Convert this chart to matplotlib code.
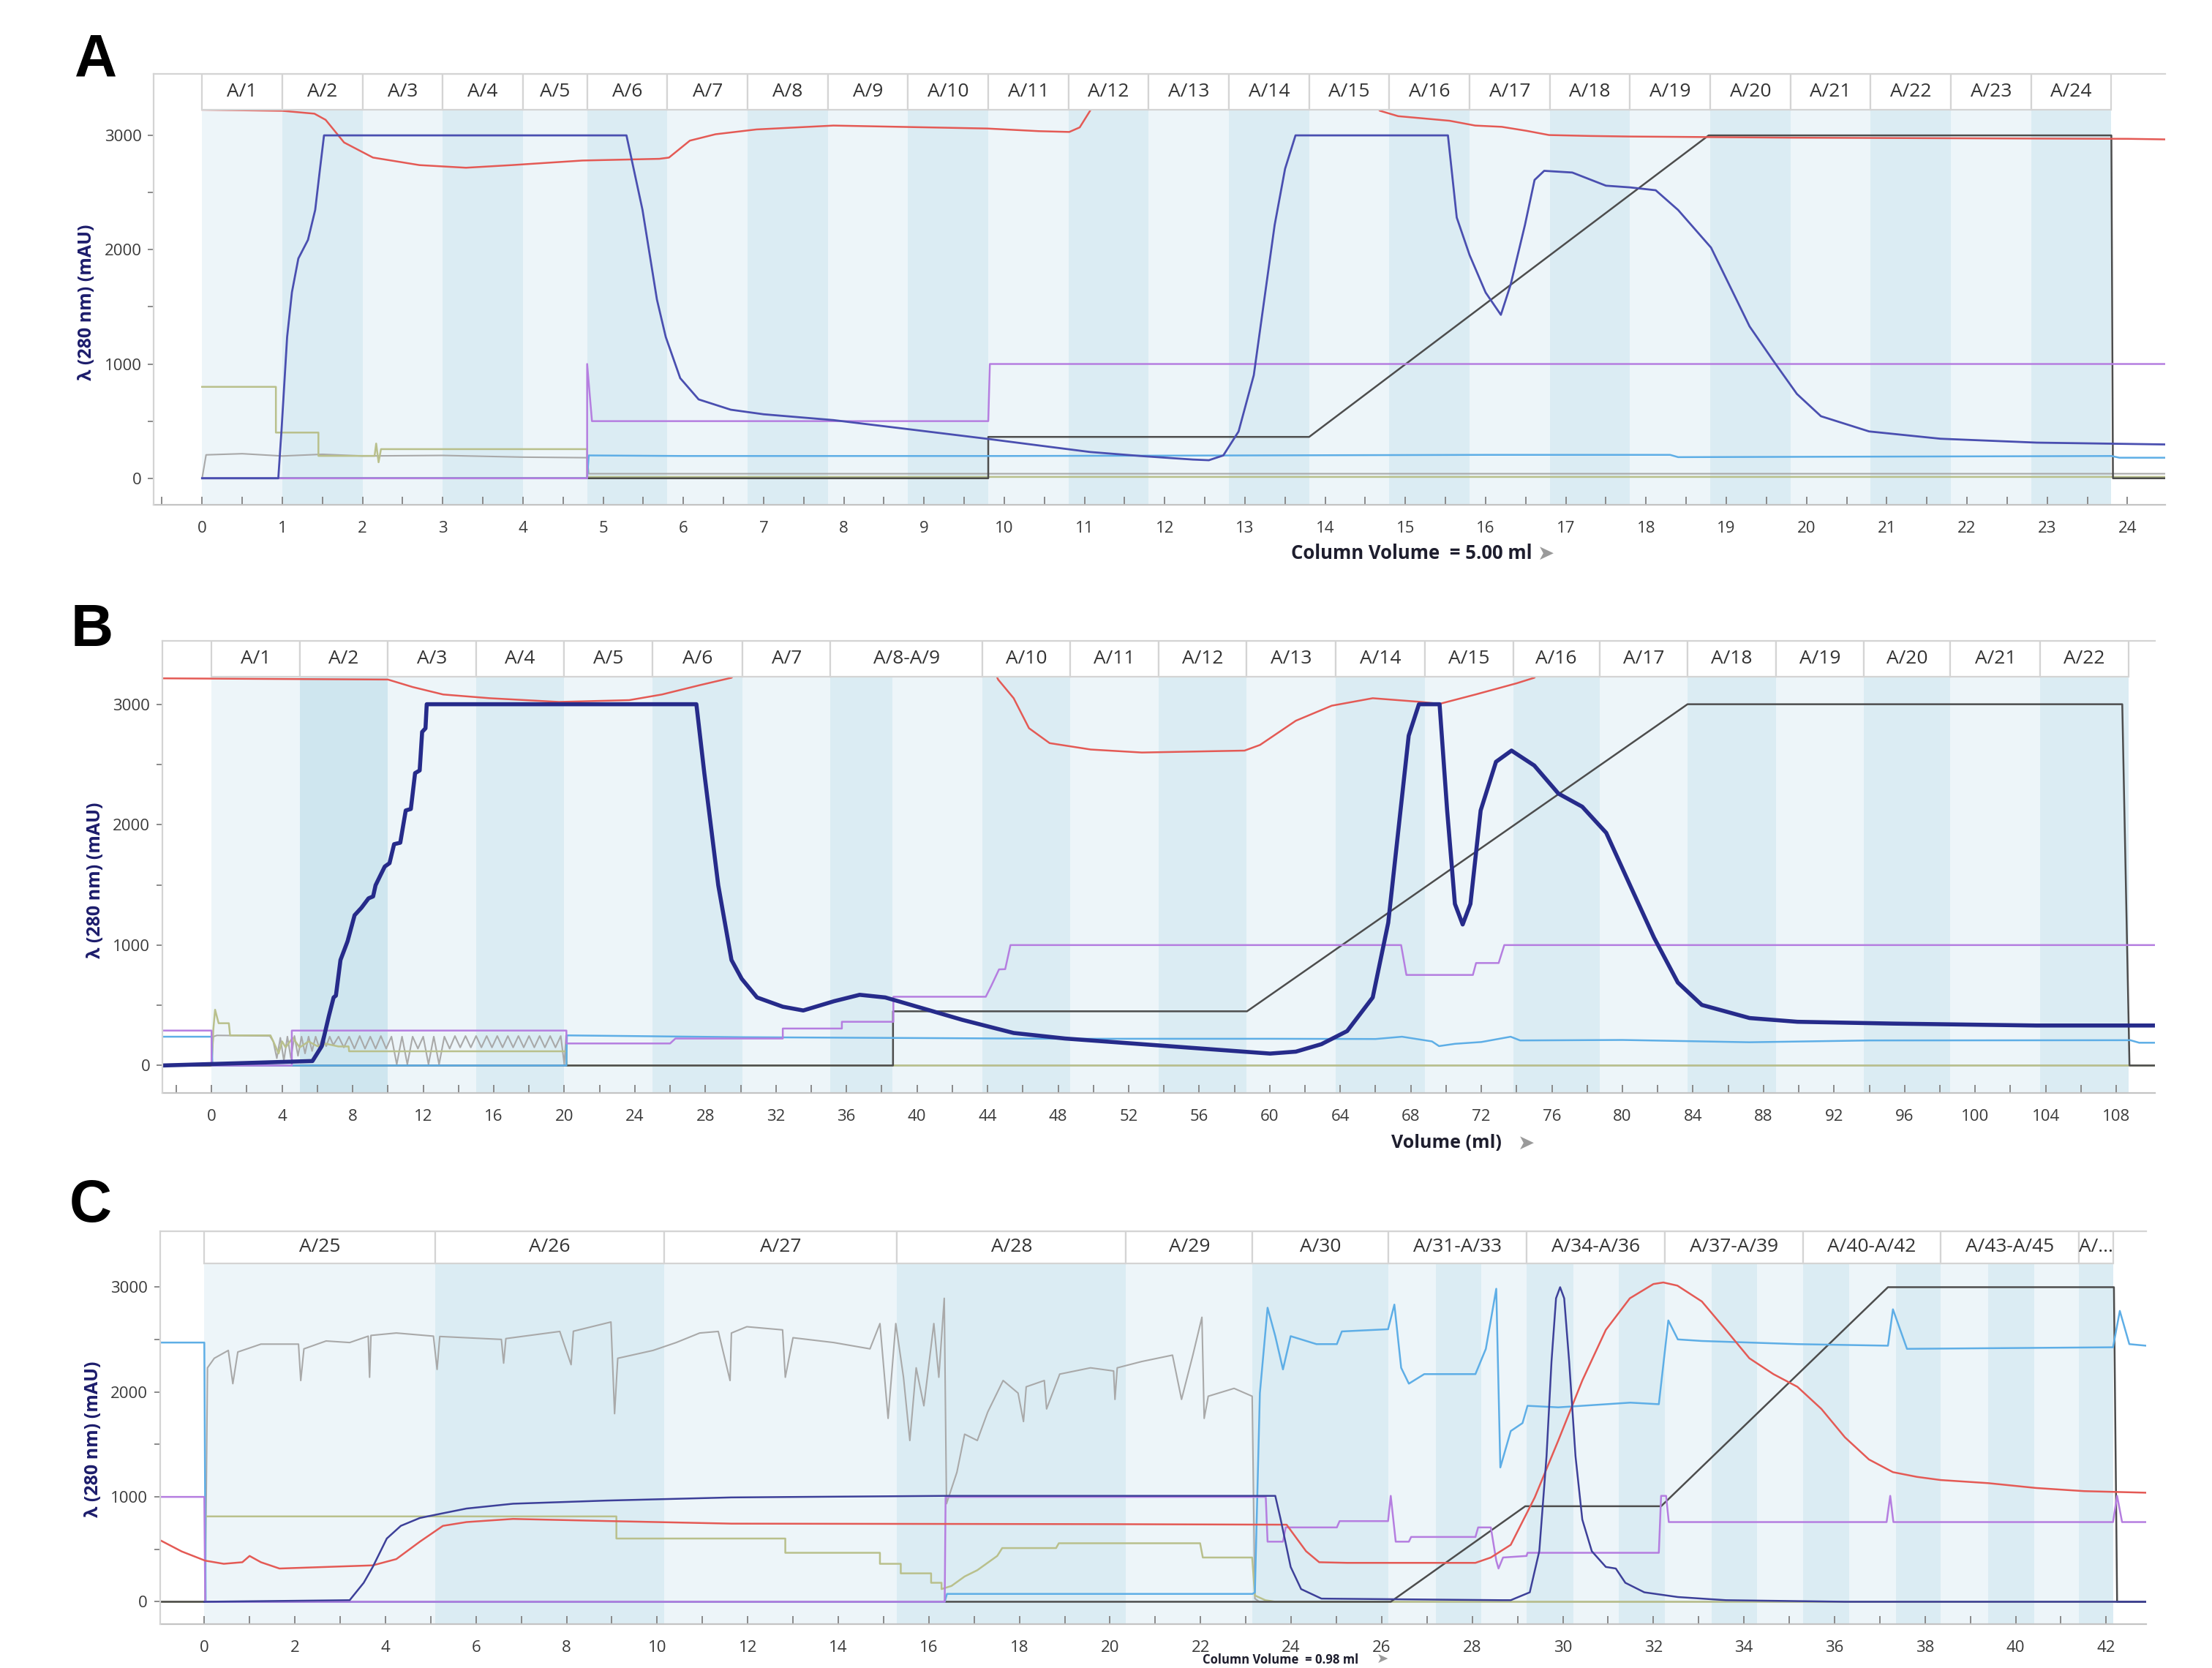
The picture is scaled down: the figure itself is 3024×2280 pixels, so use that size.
import numpy as np
import matplotlib.pyplot as plt
from matplotlib.patches import Rectangle

plt.rcParams['font.family'] = ['Open Sans', 'DejaVu Sans']

# ---------------- panel A (column volumes) ----------------
fr_a_edges = [0, 1.0, 2.0, 3.0, 4.0, 4.8, 5.8, 6.8, 7.8, 8.8, 9.8, 10.8, 11.8, 12.8,
              13.8, 14.8, 15.8, 16.8, 17.8, 18.8, 19.8, 20.8, 21.8, 22.8, 23.8]
fr_a_labels = ['A/%d' % i for i in range(1, 25)]

uv_a_x = [0.0, 0.95, 0.99, 1.06, 1.12, 1.20, 1.32, 1.41, 1.47, 1.52, 5.29, 5.49, 5.67, 5.78,
          5.96, 6.19, 6.59, 7.0, 7.87, 8.8, 9.79, 10.4, 11.07, 11.7, 12.35, 12.55, 12.73, 12.92,
          13.11, 13.24, 13.37, 13.5, 13.63, 15.53, 15.64, 15.8, 16.0, 16.19, 16.31, 16.49, 16.61,
          16.73, 17.08, 17.5, 17.8, 18.12, 18.4, 18.81, 19.29, 19.58, 19.88, 20.18, 20.78, 21.67,
          22.87, 24.47]
uv_a_y = [0, 0, 419, 1236, 1628, 1923, 2086, 2348, 2708, 3000, 3000, 2348, 1563, 1236,
          876, 690, 600, 560, 509, 430, 345, 290, 230, 195, 164, 158, 200, 409,
          902, 1560, 2216, 2708, 3000, 3000, 2281, 1953, 1625, 1430, 1690, 2216, 2610,
          2690, 2675, 2560, 2545, 2520, 2347, 2018, 1329, 1034, 738, 543, 410, 346,
          312, 296]
red_a_x = [0, 1.0, 1.4, 1.54, 1.77, 2.13, 2.71, 3.29, 3.86, 4.74, 5.7, 5.82, 6.08, 6.4, 6.91,
           7.87, 9.79, 10.43, 10.81, 10.94, 11.07, 11.12, np.nan,
           14.6, 14.68, 14.91, 15.2, 15.55, 15.87, 16.2, 16.51, 16.79, 17.3, 17.8, 18.8, 19.8,
           21.79, 23.0, 24.0, 24.47]
red_a_y = [3225, 3215, 3190, 3136, 2938, 2806, 2740, 2717, 2740, 2780, 2795, 2806, 2954, 3010, 3052,
           3086, 3060, 3037, 3030, 3070, 3216, 3300, np.nan,
           3300, 3216, 3168, 3150, 3128, 3086, 3075, 3040, 3003, 2995, 2990, 2985, 2980,
           2975, 2972, 2970, 2965]
purple_a_x = [0, 4.8, 4.8, 4.86, 9.8, 9.82, 24.47]
purple_a_y = [0, 0, 1000, 500, 500, 1000, 1000]
blue_a_x = [0, 4.8, 4.82, 6.0, 10.0, 16.0, 18.3, 18.4, 23.8, 23.9, 24.47]
blue_a_y = [0, 0, 200, 195, 195, 205, 205, 185, 195, 180, 180]
gray_a_x = [0, 0.05, 0.5, 1.0, 1.5, 2.0, 3.0, 4.0, 4.8, 4.82, 24.47]
gray_a_y = [0, 205, 215, 195, 210, 195, 200, 185, 180, 40, 40]
olive_a_x = [0, 0.92, 0.92, 1.45, 1.45, 2.15, 2.17, 2.2, 2.23, 2.25, 4.8, 4.8, 24.47]
olive_a_y = [800, 800, 400, 400, 196, 196, 304, 140, 255, 255, 255, 12, 12]
conc_a_x = [0, 9.8, 9.8, 13.8, 18.78, 23.8, 23.82, 24.47]
conc_a_y = [0, 0, 362, 362, 3000, 3000, 0, 0]

# ---------------- panel B (ml) ----------------
fr_b_edges = [0, 5.0, 10.0, 15.0, 20.0, 25.0, 30.1, 35.1, 43.7, 48.7, 53.7, 58.7, 63.75,
              68.8, 73.8, 78.7, 83.7, 88.7, 93.7, 98.6, 103.7, 108.7]
fr_b_labels = ['A/1', 'A/2', 'A/3', 'A/4', 'A/5', 'A/6', 'A/7', 'A/8-A/9'] + \
              ['A/%d' % i for i in range(10, 23)]
band_b_edges = [0, 5.0, 10.0, 15.0, 20.0, 25.0, 30.1, 35.1, 38.6, 43.7, 48.7, 53.7, 58.7, 63.75,
                68.8, 73.8, 78.7, 83.7, 88.7, 93.7, 98.6, 103.7, 108.7]

uv_b_x = [-2.79, 5.72, 6.25, 6.65, 6.92, 7.05, 7.31, 7.71, 8.11, 8.5, 8.9, 9.16, 9.3, 9.56,
          9.82, 10.09, 10.35, 10.7, 11.01, 11.3, 11.54, 11.8, 11.94, 12.13, 12.2, 27.49, 27.94,
          28.73, 29.48, 30.06, 30.93, 32.39, 33.55, 35.3, 36.75, 38.2, 39.66, 42.57, 45.48,
          48.39, 52.75, 57.11, 60.02, 61.48, 62.93, 64.39, 65.84, 66.72, 67.3, 67.88, 68.46,
          69.63, 70.06, 70.5, 70.94, 71.38, 71.96, 72.83, 73.71, 75.0, 76.37, 77.72, 79.08,
          80.43, 81.79, 83.14, 84.5, 87.21, 89.92, 95.34, 103.47, 110.18]
uv_b_y = [0, 37, 161, 410, 565, 580, 876, 1031, 1248, 1310, 1388, 1404, 1497, 1575,
          1652, 1680, 1838, 1850, 2118, 2130, 2428, 2450, 2770, 2800, 3000, 3000, 2428,
          1497, 876, 720, 565, 488, 457, 534, 587, 565, 503, 379, 270,
          224, 177, 130, 99, 115, 177, 286, 565, 1186, 1963, 2739, 3000,
          3000, 2118, 1342, 1171, 1342, 2118, 2522, 2615, 2491, 2258, 2149, 1932,
          1497, 1062, 689, 503, 394, 363, 348, 332, 332]
red_b_x = [-2.79, 10.0, 11.4, 13.13, 15.78, 19.7, 23.68, 25.54, 27.67, 29.48, 30.0, np.nan,
           44.3, 44.6, 45.48, 46.35, 47.52, 49.85, 52.75, 58.57, 59.45, 61.48, 63.52, 65.84,
           68.5, 69.63, 71.67, 74.0, 75.0, 75.5]
red_b_y = [3215, 3205, 3143, 3081, 3050, 3019, 3034, 3081, 3158, 3220, 3300, np.nan,
           3300, 3205, 3050, 2801, 2677, 2624, 2599, 2615, 2662, 2863, 2988, 3050,
           3020, 3003, 3081, 3174, 3220, 3300]
purple_b_x = [-2.79, 0.0, 0.0, 4.55, 4.55, 20.12, 20.12, 26.0, 26.3, 32.39, 32.39, 35.74, 35.74,
              38.66, 38.66, 43.9, 44.2, 44.65, 45.0, 45.3, 67.45, 67.75, 71.52, 71.7, 72.98,
              73.3, 110.18]
purple_b_y = [290, 290, 0, 0, 290, 290, 183, 183, 224, 224, 307, 307, 363,
              363, 571, 571, 658, 798, 800, 1000, 1000, 752, 752, 851, 851,
              1000, 1000]
blue_b_x = [-2.79, 0.0, 0.05, 20.12, 20.15, 30.0, 40.0, 48.0, 60.0, 66.0, 67.5, 69.2, 69.6,
            70.5, 72.0, 73.66, 74.2, 80.0, 87.2, 94.0, 108.8, 109.3, 110.18]
blue_b_y = [239, 239, 0, 0, 250, 235, 228, 222, 222, 220, 239, 200, 161,
            180, 195, 239, 208, 212, 193, 208, 210, 189, 189]
olive_b_x = [-2.79, 0.0, 0.1, 0.2, 0.4, 0.98, 1.05, 3.34, 3.5, 3.8, 4.0, 4.2, 4.6, 5.0, 5.5,
             6.0, 6.5, 7.2, 7.77, 7.8, 20.12, 20.15, 110.18]
olive_b_y = [0, 0, 300, 463, 351, 351, 250, 250, 200, 100, 200, 150, 230, 150, 200,
             160, 180, 158, 158, 118, 118, 0, 0]
gray_b_x = [-2.79, 0.0, 0.1, 0.3,
            3.3, 3.5, 3.7, 3.9, 4.1, 4.3, 4.5, 4.7, 4.9, 5.1, 5.3, 5.5, 5.7, 5.9, 6.1, 6.3,
            6.5, 6.7, 6.9,
            7.2, 7.5, 7.8, 8.1, 8.4, 8.7, 9.0, 9.3, 9.6, 9.9, 10.2, 10.5, 10.8, 11.1, 11.4,
            11.7, 12.0, 12.3, 12.6, 12.9, 13.2, 13.5, 13.8, 14.1, 14.4, 14.7, 15.0, 15.3, 15.6,
            15.9, 16.2, 16.5, 16.8, 17.1, 17.4, 17.7, 18.0, 18.3, 18.6, 18.9, 19.2, 19.5, 19.8,
            20.0, 20.1, 20.15, 110.18]
gray_b_y = [0, 0, 240, 250,
            245, 200, 60, 230, 40, 240, 60, 245, 80, 240, 100, 240, 120, 240, 150, 240,
            160, 240, 170,
            240, 150, 240, 140, 245, 140, 240, 140, 245, 140, 240, 10, 240, 10, 240,
            140, 240, 10, 240, 10, 240, 140, 245, 150, 245, 150, 245, 150, 245,
            150, 245, 150, 245, 150, 245, 150, 245, 150, 245, 150, 245, 150, 245,
            10, 250, 0, 0]
conc_b_x = [-2.79, 38.64, 38.64, 58.71, 83.69, 108.34, 108.75, 110.18]
conc_b_y = [0, 0, 450, 450, 3000, 3000, 0, 0]

# ---------------- panel C (column volumes) ----------------
fr_c_edges = [0, 5.1, 10.15, 15.3, 20.35, 23.15, 26.15, 29.2, 32.25, 35.3, 38.35, 41.4, 42.15]
fr_c_labels = ['A/25', 'A/26', 'A/27', 'A/28', 'A/29', 'A/30', 'A/31-A/33', 'A/34-A/36',
               'A/37-A/39', 'A/40-A/42', 'A/43-A/45', 'A/...']
band_c_edges = [0, 5.1, 10.15, 15.3, 20.35, 23.15, 26.15, 27.2, 28.2, 29.2, 30.23, 31.23, 32.25,
                33.29, 34.29, 35.3, 36.33, 37.35, 38.35, 39.39, 40.41, 41.4, 42.15]

uv_c_x = [0.0, 3.21, 3.52, 3.72, 4.03, 4.34, 4.76, 5.27, 5.79, 6.82, 8.88, 11.64, 16.39,
          23.65, 23.77, 23.99, 24.22, 24.67, 28.64, 28.85, 29.27, 29.48, 29.64, 29.75, 29.85,
          29.94, 30.03, 30.14, 30.28, 30.43, 30.64, 30.95, 31.17, 31.38, 31.8, 32.54, 33.6,
          36.23, 42.88]
uv_c_y = [0, 15, 181, 332, 603, 724, 799, 844, 889, 935, 965, 995, 1010,
          1010, 784, 332, 121, 30, 15, 15, 90, 482, 1387, 2291, 2894,
          3000, 2894, 2291, 1387, 784, 482, 332, 317, 181, 90, 45, 15,
          0, 0]
red_c_x = [-0.98, -0.5, 0.02, 0.43, 0.84, 1.0, 1.25, 1.66, 2.69, 3.72, 4.24, 4.76, 5.27, 5.79,
           6.82, 8.88, 11.64, 20.0, 23.9, 24.33, 24.62, 25.24, 28.07, 28.41, 28.85, 29.38, 29.9,
           30.43, 30.95, 31.48, 32.0, 32.22, 32.53, 33.07, 33.6, 34.12, 34.65, 35.18, 35.71,
           36.23, 36.76, 37.29, 37.82, 38.34, 39.4, 40.45, 41.51, 42.88]
red_c_y = [588, 480, 392, 362, 377, 437, 377, 317, 332, 347, 407, 573, 724, 760,
           790, 770, 745, 740, 735, 482, 377, 371, 371, 422, 543, 995, 1538,
           2110, 2593, 2894, 3030, 3045, 3015, 2864, 2593, 2322, 2171, 2050, 1839,
           1568, 1357, 1236, 1191, 1161, 1131, 1085, 1055, 1040]
purple_c_x = [-0.98, 0.0, 0.02, 16.35, 16.37, 23.44, 23.48, 23.82, 23.88, 25.01, 25.07, 26.14,
              26.2, 26.31, 26.6, 26.65, 28.07, 28.13, 28.41, 28.53, 28.58, 28.68, 29.2, 29.22,
              32.12, 32.17, 32.28, 32.34, 37.15, 37.23, 37.3, 42.15, 42.24, 42.35, 42.88]
purple_c_y = [1000, 1000, 0, 0, 1000, 1000, 573, 573, 709, 709, 769, 769,
              1010, 573, 573, 618, 618, 709, 709, 392, 317, 422, 437, 467,
              467, 1010, 1010, 760, 760, 1010, 760, 760, 1010, 760, 760]
blue_c_x = [-0.98, 0.0, 0.03, 16.35, 16.4, 23.15, 23.2, 23.31, 23.48, 23.65, 23.82, 23.99,
            24.56, 25.01, 25.12, 26.14, 26.28, 26.43, 26.6, 26.94, 28.07, 28.3, 28.53, 28.62,
            28.85, 29.11, 29.22, 29.9, 31.49, 32.12, 32.33, 32.54, 33.07, 35.18, 37.18, 37.29,
            37.6, 42.15, 42.3, 42.51, 42.88]
blue_c_y = [2472, 2472, 0, 0, 75, 75, 90, 1990, 2804, 2533, 2216, 2533,
            2457, 2457, 2578, 2599, 2834, 2231, 2080, 2171, 2171, 2412, 2985, 1281,
            1628, 1704, 1869, 1854, 1899, 1884, 2683, 2502, 2487, 2457, 2442, 2789,
            2412, 2427, 2774, 2457, 2442]
gray_c_x = [-0.98, 0.0, 0.02, 0.07, 0.22, 0.53, 0.63, 0.74, 1.25, 2.08, 2.13, 2.2,
            2.69, 3.21, 3.62, 3.65, 3.68, 4.24, 5.06, 5.14, 5.2, 6.56,
            6.61, 6.66, 7.85, 8.1, 8.15, 8.98, 9.06, 9.13, 9.91, 10.42,
            10.94, 11.35, 11.61, 11.64, 11.98, 12.77, 12.83, 13.0, 13.9, 14.7,
            14.92, 15.1, 15.27, 15.44, 15.58, 15.72, 15.89, 16.11, 16.22, 16.34,
            16.39, 16.62, 16.79, 17.07, 17.3, 17.64, 17.97, 18.09, 18.15, 18.55,
            18.6, 18.89, 19.57, 20.08, 20.11, 20.16, 20.7, 21.38, 21.58, 21.83,
            22.03, 22.08, 22.17, 22.74, 23.14, 23.2, 23.3, 42.88]
gray_c_y = [0, 0, 0, 2231, 2322, 2397, 2080, 2382, 2457, 2457, 2110, 2412,
            2487, 2472, 2533, 2141, 2540, 2563, 2533, 2216, 2530, 2502,
            2276, 2510, 2578, 2261, 2580, 2668, 1794, 2322, 2397, 2472,
            2563, 2578, 2110, 2563, 2623, 2593, 2141, 2518, 2472, 2412,
            2653, 1749, 2653, 2141, 1538, 2231, 1869, 2653, 2141, 2894,
            935, 1236, 1598, 1538, 1809, 2110, 1990, 1719, 2050, 2110,
            1839, 2171, 2231, 2201, 1930, 2231, 2291, 2352, 1930, 2352,
            2713, 1749, 1960, 2035, 1960, 30, 0, 0]
olive_c_x = [-0.98, 0.02, 0.02, 9.1, 9.1, 12.83, 12.83, 14.92, 14.92, 15.38, 15.38, 16.05,
             16.05, 16.28, 16.28, 16.5, 16.79, 17.07, 17.51, 17.62, 18.81, 18.87, 21.99, 22.05,
             23.14, 23.2, 23.43, 23.65, 42.88]
olive_c_y = [0, 0, 814, 814, 603, 603, 467, 467, 362, 362, 271, 271,
             181, 181, 121, 151, 241, 301, 437, 512, 512, 558, 558, 422,
             422, 60, 15, 0, 0]
conc_c_x = [-0.98, 26.2, 29.17, 32.17, 37.18, 42.17, 42.24, 42.88]
conc_c_y = [0, 0, 911, 911, 3000, 3000, 0, 0]

# colours
UV = '#4a4fb0'
UV_B = '#262b8a'
RED = '#e45a55'
PURPLE = '#b57ee0'
LBLUE = '#5eaee6'
OLIVE = '#b9c08c'
DGRAY = '#4d4d4d'
LGRAY = '#a9a9a9'
BAND_LIGHT = '#edf5f9'
BAND_DARK = '#dbecf3'
FRAME = '#d4d4d4'


def draw_panel(ax, xlim, ylim, head_lo, fr_edges, fr_labels, band_edges, curves,
               major, minor, band_override=None):
    ax.set_xlim(*xlim)
    ax.set_ylim(*ylim)
    # fraction bands
    for i in range(len(band_edges) - 1):
        c = BAND_LIGHT if i % 2 == 0 else BAND_DARK
        if band_override and i in band_override:
            c = band_override[i]
        ax.add_patch(Rectangle((band_edges[i], ylim[0]), band_edges[i + 1] - band_edges[i],
                               head_lo - ylim[0], facecolor=c, lw=0, zorder=0))
    for x, y, col, lw in curves:
        ax.plot(x, y, color=col, lw=lw, zorder=2, solid_joinstyle='round')
    # header strip
    ax.add_patch(Rectangle((xlim[0], head_lo), xlim[1] - xlim[0], ylim[1] - head_lo,
                           facecolor='white', lw=0, zorder=5))
    for i in range(len(fr_labels)):
        ax.add_patch(Rectangle((fr_edges[i], head_lo), fr_edges[i + 1] - fr_edges[i],
                               ylim[1] - head_lo, facecolor='white', edgecolor=FRAME,
                               lw=1.6, zorder=6))
        ax.text((fr_edges[i] + fr_edges[i + 1]) / 2, (head_lo + ylim[1]) / 2, fr_labels[i],
                ha='center', va='center', fontsize=19, color='#333333', zorder=7)
    for s in ['top', 'left']:
        ax.spines[s].set_color(FRAME)
        ax.spines[s].set_linewidth(1.6)
        ax.spines[s].set_zorder(8)
    ax.spines['right'].set_visible(False)
    ax.spines['bottom'].set_color('#c4c4c4')
    ax.spines['bottom'].set_linewidth(1.6)
    ax.set_xticks(major)
    ax.set_xticks(minor, minor=True)
    ax.set_xticklabels([str(v) for v in major])
    ax.set_yticks([0, 1000, 2000, 3000])
    ax.set_yticks([500, 1500, 2500], minor=True)
    ax.tick_params(axis='x', which='both', direction='in', length=8, width=1.4,
                   color='#8a8a8a', labelsize=16, labelcolor='#3a3a3a', pad=16)
    ax.tick_params(axis='y', which='both', direction='out', length=6, width=1.4,
                   color='#8a8a8a', labelsize=16, labelcolor='#3a3a3a', pad=6)
    ax.set_ylabel('λ (280 nm) (mAU)', color='#1c1c6b', fontsize=18, fontweight='bold')
    ax.yaxis.set_label_coords(-0.029, 0.47)


fig = plt.figure(figsize=(30.24, 22.8), dpi=100)

ax_a = fig.add_axes([0.0696, 0.6975, 0.9788 - 0.0696, 0.9557 - 0.6975])
draw_panel(ax_a, (-0.6, 24.47), (-230, 3538), 3227, fr_a_edges, fr_a_labels, fr_a_edges,
           [(gray_a_x, gray_a_y, LGRAY, 1.5), (olive_a_x, olive_a_y, OLIVE, 1.8),
            (conc_a_x, conc_a_y, DGRAY, 1.8), (blue_a_x, blue_a_y, LBLUE, 1.8),
            (purple_a_x, purple_a_y, PURPLE, 1.8), (red_a_x, red_a_y, RED, 1.8),
            (uv_a_x, uv_a_y, UV, 2.0)],
           list(range(0, 25)), [v + 0.5 for v in range(-1, 24)])

ax_b = fig.add_axes([0.0734, 0.3449, 0.9741 - 0.0734, 0.6157 - 0.3449])
draw_panel(ax_b, (-2.79, 110.18), (-226, 3525), 3230, fr_b_edges, fr_b_labels, band_b_edges,
           [(gray_b_x, gray_b_y, LGRAY, 1.5), (olive_b_x, olive_b_y, OLIVE, 1.8),
            (conc_b_x, conc_b_y, DGRAY, 1.8), (blue_b_x, blue_b_y, LBLUE, 1.8),
            (purple_b_x, purple_b_y, PURPLE, 1.8), (red_b_x, red_b_y, RED, 1.8),
            (uv_b_x, uv_b_y, UV_B, 4.0)],
           list(range(0, 109, 4)), list(range(-2, 110, 4)), band_override={1: '#cfe6ef'})

ax_c = fig.add_axes([0.0723, 0.0262, 0.9702 - 0.0723, 0.262 - 0.0262])
draw_panel(ax_c, (-0.98, 42.88), (-215, 3536), 3226, fr_c_edges, fr_c_labels, band_c_edges,
           [(gray_c_x, gray_c_y, LGRAY, 1.5), (olive_c_x, olive_c_y, OLIVE, 1.8),
            (conc_c_x, conc_c_y, DGRAY, 1.8), (blue_c_x, blue_c_y, LBLUE, 1.8),
            (purple_c_x, purple_c_y, PURPLE, 1.8), (red_c_x, red_c_y, RED, 1.8),
            (uv_c_x, uv_c_y, '#3d4099', 1.8)],
           list(range(0, 43, 2)), list(range(1, 43, 2)))

# axis titles under each panel
fig.text(0.638, 0.668, 'Column Volume  = 5.00 ml', ha='center', va='center', fontsize=18.5,
         fontweight='bold', color='#1e1e2e')
fig.text(0.699, 0.668, '➤', ha='center', va='center', fontsize=20, color='#9a9a9a',
         family='DejaVu Sans')
fig.text(0.654, 0.3147, 'Volume (ml)', ha='center', va='center', fontsize=18,
         fontweight='bold', color='#1e1e2e')
fig.text(0.690, 0.3147, '➤', ha='center', va='center', fontsize=20, color='#9a9a9a',
         family='DejaVu Sans')
fig.text(0.579, 0.0008, 'Column Volume  = 0.98 ml', ha='center', va='bottom', fontsize=12,
         fontweight='bold', color='#1e1e2e')
fig.text(0.625, 0.0008, '➤', ha='center', va='bottom', fontsize=14, color='#9a9a9a',
         family='DejaVu Sans')

# panel letters
for lab, x, y in [('A', 0.0434, 0.9636), ('B', 0.0415, 0.6218), ('C', 0.0408, 0.2766)]:
    fig.text(x, y, lab, ha='center', va='center', fontsize=58, fontweight='bold',
             family='Liberation Sans', color='black')

fig.savefig('out.png', dpi=100)
